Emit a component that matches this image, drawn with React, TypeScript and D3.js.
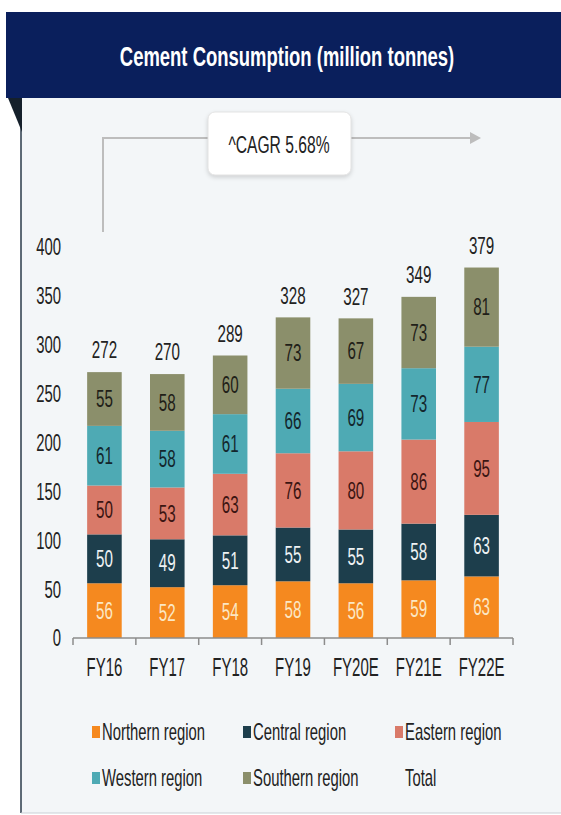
import React from "react";
import * as d3 from "d3";

const categories = ["FY16", "FY17", "FY18", "FY19", "FY20E", "FY21E", "FY22E"];
const northern = [56, 52, 54, 58, 56, 59, 63];
const central = [50, 49, 51, 55, 55, 58, 63];
const eastern = [50, 53, 63, 76, 80, 86, 95];
const western = [61, 58, 61, 66, 69, 73, 77];
const southern = [55, 58, 60, 73, 67, 73, 81];
const totals = [272, 270, 289, 328, 327, 349, 379];
const yTicks = [0, 50, 100, 150, 200, 250, 300, 350, 400];
const seriesNames = ["Northern region", "Central region", "Eastern region", "Western region", "Southern region"];
const title = "Cement Consumption (million tonnes)";
const cagrLabel = "^CAGR 5.68%";

const colors = ["#f5891f", "#1d3e4c", "#d97a69", "#4eaab4", "#8b8f6b"];
const labelColors = ["#fbe7c4", "#eef2f4", "#3b1512", "#13262c", "#1f2018"];
const FONT = "'Liberation Sans', Arial, sans-serif";

function NText(props: any) {
  const { x, y, sx = 0.62, children, ...rest } = props;
  return (
    <g transform={`translate(${x},${y}) scale(${sx},1)`}>
      <text x={0} y={0} dominantBaseline="central" {...rest}>
        {children}
      </text>
    </g>
  );
}

export default function App() {
  const W = 561, H = 815;
  const seriesValues = [northern, central, eastern, western, southern];
  const x = d3.scaleBand().domain(categories).range([73, 513]).paddingInner(0.45).paddingOuter(0.225);
  const y = d3.scaleLinear().domain([0, 400]).range([638, 247]);
  const rows = categories.map((c, i) => {
    const r: any = { cat: c };
    seriesNames.forEach((s, k) => (r[s] = seriesValues[k][i]));
    return r;
  });
  const stacked = d3.stack().keys(seriesNames)(rows);
  const step = 440 / categories.length;
  const legendCols = [92, 243, 395];
  const legendRows = [732, 778];

  return (
    <svg width={W} height={H} style={{ position: "absolute", left: 0, top: 0, background: "#fff" }} fontFamily={FONT}>
      {/* panel */}
      <rect x={21} y={98} width={540} height={715} fill="#f3f6f8" />
      <line x1={21} y1={98} x2={21} y2={813} stroke="#2a3a4a" strokeWidth={1.5} />
      <line x1={21} y1={813} x2={561} y2={813} stroke="#c9d0d6" strokeWidth={1} />
      <path d="M8,98 L22,98 L22,132 Z" fill="#15202b" />
      {/* header */}
      <rect x={6} y={12} width={555} height={86} fill="#0a1f5c" />
      <NText x={287} y={57} sx={0.684} textAnchor="middle" fill="#fff" fontWeight="bold" fontSize={27}>
        {title}
      </NText>

      {/* CAGR arrow */}
      <path d="M103,232 L103,138 L472,138" fill="none" stroke="#bdbdbd" strokeWidth={2} />
      <path d="M470,132 L481,138 L470,144 Z" fill="#bdbdbd" />
      <rect x={208} y={112} width={143} height={63} rx={7} fill="#fff" stroke="#e3e3e3" style={{ filter: "drop-shadow(0px 2px 2px rgba(0,0,0,0.15))" }} />
      <NText x={279} y={145} sx={0.68} textAnchor="middle" fontSize={23} fill="#222">
        {cagrLabel}
      </NText>

      {/* y ticks */}
      {yTicks.map((t) => (
        <NText key={t} x={61} y={y(t)} textAnchor="end" fontSize={24} fill="#222">
          {t}
        </NText>
      ))}

      {/* bars */}
      {stacked.map((layer, k) => (
        <g key={layer.key}>
          {layer.map((d, i) => {
            const x0 = x(categories[i])!;
            const top = y(d[1]);
            const bot = y(d[0]);
            return (
              <g key={i}>
                <rect x={x0} y={top} width={x.bandwidth()} height={bot - top} fill={colors[k]} />
                <NText x={x0 + x.bandwidth() / 2} y={(top + bot) / 2} sx={0.66} textAnchor="middle" fontSize={23} fill={labelColors[k]}>
                  {seriesValues[k][i]}
                </NText>
              </g>
            );
          })}
        </g>
      ))}
      {/* totals */}
      {totals.map((t, i) => (
        <NText key={i} x={x(categories[i])! + x.bandwidth() / 2} y={y(t) - 22} sx={0.66} textAnchor="middle" fontSize={23} fill="#222">
          {t}
        </NText>
      ))}

      {/* x axis */}
      <line x1={73} y1={638} x2={513} y2={638} stroke="#8c8c8c" strokeWidth={1.5} />
      {d3.range(categories.length + 1).map((j) => (
        <line key={j} x1={73 + j * step} y1={638} x2={73 + j * step} y2={645} stroke="#8c8c8c" strokeWidth={1.5} />
      ))}
      {categories.map((c) => (
        <NText key={c} x={x(c)! + x.bandwidth() / 2} y={667} sx={0.6} textAnchor="middle" fontSize={25} fill="#222">
          {c}
        </NText>
      ))}

      {/* legend */}
      {seriesNames.map((s, k) => {
        const lx = legendCols[k % 3];
        const ly = legendRows[Math.floor(k / 3)];
        return (
          <g key={s}>
            <rect x={lx} y={ly - 6} width={8} height={12} fill={colors[k]} />
            <NText x={lx + 10} y={ly} sx={0.645} fontSize={23} fill="#222">
              {s}
            </NText>
          </g>
        );
      })}
      <NText x={legendCols[2] + 10} y={legendRows[1]} sx={0.645} fontSize={23} fill="#222">
        Total
      </NText>
    </svg>
  );
}
